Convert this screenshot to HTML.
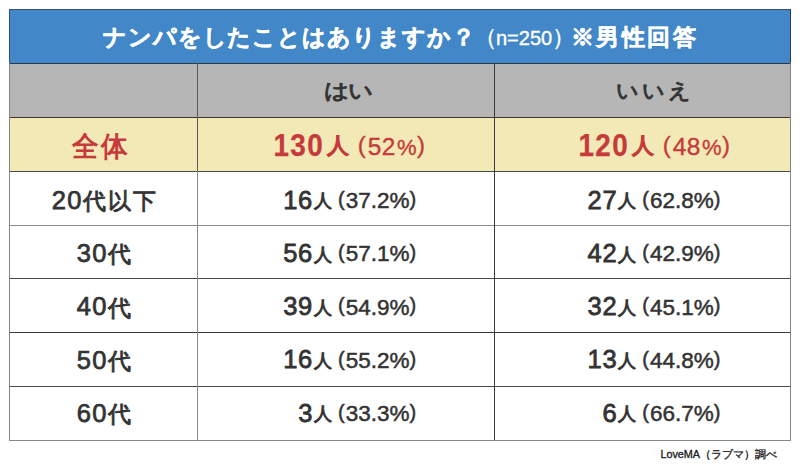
<!DOCTYPE html>
<html lang="ja">
<head>
<meta charset="utf-8">
<style>
html,body{margin:0;padding:0;background:#fff;}
body{width:800px;height:467px;position:relative;overflow:hidden;font-family:"Liberation Sans",sans-serif;}
.bg{position:absolute;}
.hl{position:absolute;height:1px;left:9px;width:782px;}
.vl{position:absolute;width:1px;}
.t{position:absolute;white-space:nowrap;line-height:1;}
.r{text-align:right;}
.title{color:#fff;font-weight:bold;font-size:23px;letter-spacing:0.9px;-webkit-text-stroke:0.5px #fff;}
.title .kj{letter-spacing:2.6px;margin-left:-2px;}
.title .pp{font-size:23px;position:relative;top:-0.5px;}
.title .sm{font-weight:normal;font-size:20px;letter-spacing:0;-webkit-text-stroke:0.4px #fff;}
.hd{color:#333;font-weight:normal;font-size:21px;letter-spacing:-1.1px;-webkit-text-stroke:0.95px #333;transform-origin:0 0;transform:scaleX(1.17);}
.red{color:#c63a3c;font-weight:bold;}
.dk{color:#333;}
.foot{color:#222;font-size:10.6px;font-weight:normal;-webkit-text-stroke:0.35px #222;}
</style>
</head>
<body>
<div class="bg" style="left:9px;top:9px;width:782px;height:54px;background:#4287c7;"></div>
<div class="bg" style="left:9px;top:63px;width:782px;height:54px;background:#b6b6b6;"></div>
<div class="bg" style="left:9px;top:117px;width:782px;height:54px;background:#f3e9b6;"></div>
<div class="hl" style="top:9px;background:#3b5370;"></div>
<div class="hl" style="top:63px;background:#2b3a4a;"></div>
<div class="hl" style="top:117px;background:#3a3630;"></div>
<div class="hl" style="top:171px;background:#4a4a44;"></div>
<div class="hl" style="top:225px;background:#8a8a8a;"></div>
<div class="hl" style="top:278px;background:#484848;"></div>
<div class="hl" style="top:332px;background:#383838;"></div>
<div class="hl" style="top:386px;background:#4a4a4a;"></div>
<div class="hl" style="top:440px;background:#888;"></div>
<div class="vl" style="left:9px;top:9px;height:54px;background:#35506e;"></div>
<div class="vl" style="left:9px;top:63px;height:378px;background:#858585;"></div>
<div class="vl" style="left:790px;top:9px;height:54px;background:#2e3e55;"></div>
<div class="vl" style="left:790px;top:63px;height:378px;background:#858585;"></div>
<div class="vl" style="left:197px;top:63px;height:108px;background:#5a5a55;"></div>
<div class="vl" style="left:197px;top:171px;height:269px;background:#8a8a8a;"></div>
<div class="vl" style="left:494px;top:63px;height:377px;background:#3a3a3a;"></div>
<div class="t title" style="left:103px;top:26px;">ナンパをしたことはありますか？<span class="sm"><span class="pp" style="margin-left:-1.5px;margin-right:-1px;">（</span>n=250<span class="pp" style="margin-right:-2.5px;">）</span></span><span class="kj">※男性回答</span></div>
<div class="t hd" style="left:323.5px;top:79.5px;">はい</div>
<div class="t hd" style="left:615.5px;top:79.5px;letter-spacing:2.6px;transform:scaleX(1.055);">いいえ</div>
<div class="t red" style="left:71.5px;top:132.8px;font-size:28px;letter-spacing:2.5px;transform:scaleX(0.95);transform-origin:0 0;">全体</div>
<div class="t red" style="right:475.84px;top:129.86px;font-size:31px;letter-spacing:1.4px;transform:scaleX(0.9);transform-origin:100% 0;-webkit-text-stroke:0.25px #c63a3c;">130</div>
<div class="t red" style="left:327.20px;top:136.09px;font-size:21.5px;-webkit-text-stroke:0.4px #c63a3c;">人</div>
<div class="t red" style="right:374.45px;top:135.36px;font-size:24.5px;letter-spacing:0.5px;font-weight:normal;-webkit-text-stroke:0.35px #c63a3c;"><span style="font-size:24px;position:relative;top:-2.5px;margin-right:1.5px;">(</span>52<span style="font-size:22px;margin-left:1px;">%</span><span style="font-size:24px;position:relative;top:-2.5px;">)</span></div>
<div class="t red" style="right:170.84px;top:129.86px;font-size:31px;letter-spacing:1.4px;transform:scaleX(0.9);transform-origin:100% 0;-webkit-text-stroke:0.25px #c63a3c;">120</div>
<div class="t red" style="left:632.20px;top:136.09px;font-size:21.5px;-webkit-text-stroke:0.4px #c63a3c;">人</div>
<div class="t red" style="right:69.45px;top:135.36px;font-size:24.5px;letter-spacing:0.5px;font-weight:normal;-webkit-text-stroke:0.35px #c63a3c;"><span style="font-size:24px;position:relative;top:-2.5px;margin-right:1.5px;">(</span>48<span style="font-size:22px;margin-left:1px;">%</span><span style="font-size:24px;position:relative;top:-2.5px;">)</span></div>
<div class="t dk" style="left:4px;width:200px;text-align:center;top:187.91px;font-size:25.5px;-webkit-text-stroke:0.75px #333;"><span style="letter-spacing:1.3px;">20</span><span style="font-size:23px;-webkit-text-stroke:0.85px #333;letter-spacing:2px;margin-left:0.5px;margin-right:-2px;position:relative;top:0.2px;">代以下</span></div>
<div class="t dk" style="right:486.90px;top:187.71px;font-size:25.5px;letter-spacing:0.8px;-webkit-text-stroke:0.8px #333;">16</div>
<div class="t dk" style="left:313.70px;top:193.35px;font-size:17.5px;-webkit-text-stroke:0.95px #333;">人</div>
<div class="t dk" style="right:383.90px;top:190.25px;font-size:22.5px;-webkit-text-stroke:0.5px #333;"><span style="font-size:20px;position:relative;top:-2.4px;margin-right:1px;">(</span>37.2%<span style="font-size:20px;position:relative;top:-2.4px;">)</span></div>
<div class="t dk" style="right:182.50px;top:187.71px;font-size:25.5px;letter-spacing:0.8px;-webkit-text-stroke:0.8px #333;">27</div>
<div class="t dk" style="left:618.10px;top:193.35px;font-size:17.5px;-webkit-text-stroke:0.95px #333;">人</div>
<div class="t dk" style="right:79.50px;top:190.25px;font-size:22.5px;-webkit-text-stroke:0.5px #333;"><span style="font-size:20px;position:relative;top:-2.4px;margin-right:1px;">(</span>62.8%<span style="font-size:20px;position:relative;top:-2.4px;">)</span></div>
<div class="t dk" style="left:4px;width:200px;text-align:center;top:241.11px;font-size:25.5px;-webkit-text-stroke:0.75px #333;"><span style="letter-spacing:1.3px;">30</span><span style="font-size:23px;-webkit-text-stroke:0.85px #333;letter-spacing:2px;margin-left:0.5px;margin-right:-2px;position:relative;top:0.2px;">代</span></div>
<div class="t dk" style="right:486.90px;top:240.91px;font-size:25.5px;letter-spacing:0.8px;-webkit-text-stroke:0.8px #333;">56</div>
<div class="t dk" style="left:313.70px;top:246.55px;font-size:17.5px;-webkit-text-stroke:0.95px #333;">人</div>
<div class="t dk" style="right:383.90px;top:243.45px;font-size:22.5px;-webkit-text-stroke:0.5px #333;"><span style="font-size:20px;position:relative;top:-2.4px;margin-right:1px;">(</span>57.1%<span style="font-size:20px;position:relative;top:-2.4px;">)</span></div>
<div class="t dk" style="right:182.50px;top:240.91px;font-size:25.5px;letter-spacing:0.8px;-webkit-text-stroke:0.8px #333;">42</div>
<div class="t dk" style="left:618.10px;top:246.55px;font-size:17.5px;-webkit-text-stroke:0.95px #333;">人</div>
<div class="t dk" style="right:79.50px;top:243.45px;font-size:22.5px;-webkit-text-stroke:0.5px #333;"><span style="font-size:20px;position:relative;top:-2.4px;margin-right:1px;">(</span>42.9%<span style="font-size:20px;position:relative;top:-2.4px;">)</span></div>
<div class="t dk" style="left:4px;width:200px;text-align:center;top:294.41px;font-size:25.5px;-webkit-text-stroke:0.75px #333;"><span style="letter-spacing:1.3px;">40</span><span style="font-size:23px;-webkit-text-stroke:0.85px #333;letter-spacing:2px;margin-left:0.5px;margin-right:-2px;position:relative;top:0.2px;">代</span></div>
<div class="t dk" style="right:486.90px;top:294.21px;font-size:25.5px;letter-spacing:0.8px;-webkit-text-stroke:0.8px #333;">39</div>
<div class="t dk" style="left:313.70px;top:299.85px;font-size:17.5px;-webkit-text-stroke:0.95px #333;">人</div>
<div class="t dk" style="right:383.90px;top:296.75px;font-size:22.5px;-webkit-text-stroke:0.5px #333;"><span style="font-size:20px;position:relative;top:-2.4px;margin-right:1px;">(</span>54.9%<span style="font-size:20px;position:relative;top:-2.4px;">)</span></div>
<div class="t dk" style="right:182.50px;top:294.21px;font-size:25.5px;letter-spacing:0.8px;-webkit-text-stroke:0.8px #333;">32</div>
<div class="t dk" style="left:618.10px;top:299.85px;font-size:17.5px;-webkit-text-stroke:0.95px #333;">人</div>
<div class="t dk" style="right:79.50px;top:296.75px;font-size:22.5px;-webkit-text-stroke:0.5px #333;"><span style="font-size:20px;position:relative;top:-2.4px;margin-right:1px;">(</span>45.1%<span style="font-size:20px;position:relative;top:-2.4px;">)</span></div>
<div class="t dk" style="left:4px;width:200px;text-align:center;top:347.61px;font-size:25.5px;-webkit-text-stroke:0.75px #333;"><span style="letter-spacing:1.3px;">50</span><span style="font-size:23px;-webkit-text-stroke:0.85px #333;letter-spacing:2px;margin-left:0.5px;margin-right:-2px;position:relative;top:0.2px;">代</span></div>
<div class="t dk" style="right:486.90px;top:347.41px;font-size:25.5px;letter-spacing:0.8px;-webkit-text-stroke:0.8px #333;">16</div>
<div class="t dk" style="left:313.70px;top:353.05px;font-size:17.5px;-webkit-text-stroke:0.95px #333;">人</div>
<div class="t dk" style="right:383.90px;top:349.95px;font-size:22.5px;-webkit-text-stroke:0.5px #333;"><span style="font-size:20px;position:relative;top:-2.4px;margin-right:1px;">(</span>55.2%<span style="font-size:20px;position:relative;top:-2.4px;">)</span></div>
<div class="t dk" style="right:182.50px;top:347.41px;font-size:25.5px;letter-spacing:0.8px;-webkit-text-stroke:0.8px #333;">13</div>
<div class="t dk" style="left:618.10px;top:353.05px;font-size:17.5px;-webkit-text-stroke:0.95px #333;">人</div>
<div class="t dk" style="right:79.50px;top:349.95px;font-size:22.5px;-webkit-text-stroke:0.5px #333;"><span style="font-size:20px;position:relative;top:-2.4px;margin-right:1px;">(</span>44.8%<span style="font-size:20px;position:relative;top:-2.4px;">)</span></div>
<div class="t dk" style="left:4px;width:200px;text-align:center;top:400.81px;font-size:25.5px;-webkit-text-stroke:0.75px #333;"><span style="letter-spacing:1.3px;">60</span><span style="font-size:23px;-webkit-text-stroke:0.85px #333;letter-spacing:2px;margin-left:0.5px;margin-right:-2px;position:relative;top:0.2px;">代</span></div>
<div class="t dk" style="right:486.90px;top:400.61px;font-size:25.5px;letter-spacing:0.8px;-webkit-text-stroke:0.8px #333;">3</div>
<div class="t dk" style="left:313.70px;top:406.25px;font-size:17.5px;-webkit-text-stroke:0.95px #333;">人</div>
<div class="t dk" style="right:383.90px;top:403.15px;font-size:22.5px;-webkit-text-stroke:0.5px #333;"><span style="font-size:20px;position:relative;top:-2.4px;margin-right:1px;">(</span>33.3%<span style="font-size:20px;position:relative;top:-2.4px;">)</span></div>
<div class="t dk" style="right:182.50px;top:400.61px;font-size:25.5px;letter-spacing:0.8px;-webkit-text-stroke:0.8px #333;">6</div>
<div class="t dk" style="left:618.10px;top:406.25px;font-size:17.5px;-webkit-text-stroke:0.95px #333;">人</div>
<div class="t dk" style="right:79.50px;top:403.15px;font-size:22.5px;-webkit-text-stroke:0.5px #333;"><span style="font-size:20px;position:relative;top:-2.4px;margin-right:1px;">(</span>66.7%<span style="font-size:20px;position:relative;top:-2.4px;">)</span></div>
<div class="t foot" style="right:23px;top:448.5px;"><span style="font-size:10.8px;">LoveMA</span>（ラブマ）調べ</div>
</body>
</html>
